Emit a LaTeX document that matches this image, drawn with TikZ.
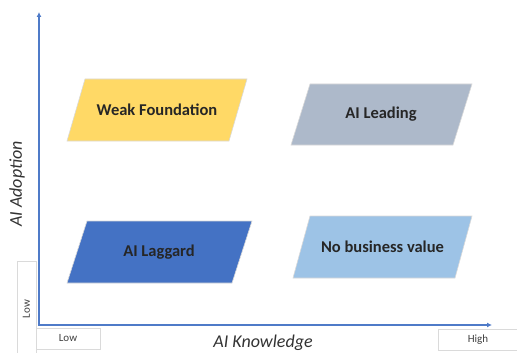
\documentclass[tikz,border=0pt]{standalone}
\usepackage{fontspec}
\setmainfont{Carlito}
\usetikzlibrary{arrows.meta}
\definecolor{axisblue}{HTML}{4F7BC8}
\definecolor{weakyellow}{HTML}{FFD966}
\definecolor{leadgray}{HTML}{ADB9CA}
\definecolor{lagblue}{HTML}{4472C4}
\definecolor{valueblue}{HTML}{9DC3E6}
\definecolor{tickgray}{HTML}{DADADA}
\tikzset{
  quadfill/.style={draw=white!85!black, line width=0.6pt},
  quadtext/.style={font=\fontsize{16.5}{18}\selectfont\bfseries, text=black!85},
  tickbox/.style={draw=tickgray, fill=white, line width=0.8pt, inner sep=0pt,
    font=\fontsize{11}{12}\selectfont, text=black!75},
  axislabel/.style={font=\fontsize{18}{20}\selectfont\itshape, text=black!80}
}
\begin{document}
\begin{tikzpicture}[x=1pt,y=-1pt]
  \useasboundingbox (0,0) rectangle (517,353);
  % scale boxes
  \node[tickbox, minimum width=19pt, minimum height=92pt] (lowy) at (26.5,307) {};
  \node[rotate=90, font=\fontsize{11}{12}\selectfont, text=black!75] (lowytext) at (26.5,309) {Low};
  \node[tickbox, minimum width=64pt, minimum height=21pt] (lowx) at (68,338.5) {Low};
  \node[tickbox, minimum width=80pt, minimum height=21pt] (highx) at (478,339.5) {High};

  % axes
  \coordinate (ytop) at (39,12);
  \coordinate (origin) at (39,325);
  \coordinate (xend) at (492,325);
  \draw[axisblue, line width=2pt, {Latex[length=5pt,width=5pt]}-{Latex[length=5pt,width=5pt]}]
    (ytop) -- (origin) -- (xend);
  \node[axislabel, rotate=90] (ylabel) at (17,184) {AI Adoption};
  \node[axislabel] (xlabel) at (263,343) {AI Knowledge};

  % quadrants
  \fill[quadfill, fill=weakyellow] (85,79) -- (247,79) -- (229,141) -- (67,141) -- cycle;
  \fill[quadfill, fill=leadgray] (310,84) -- (472,84) -- (453,145) -- (291,145) -- cycle;
  \fill[quadfill, fill=lagblue] (87,221) -- (252,221) -- (232,283) -- (67,283) -- cycle;
  \fill[quadfill, fill=valueblue] (310,216) -- (472,216) -- (455,278) -- (293,278) -- cycle;
  \node[quadtext] (weak) at (157,110) {Weak Foundation};
  \node[quadtext] (leading) at (381,114.5) {AI Leading};
  \node[quadtext] (laggard) at (159,252) {AI Laggard};
  \node[quadtext] (novalue) at (382.5,247) {No business value};
\end{tikzpicture}
\end{document}
